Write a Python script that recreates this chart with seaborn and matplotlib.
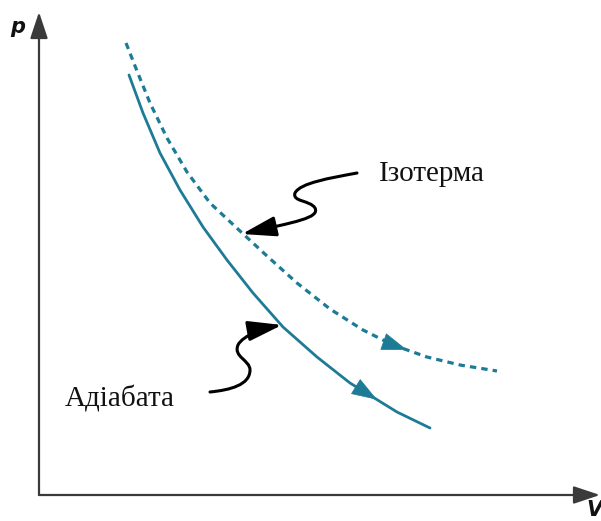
import numpy as np
import matplotlib
matplotlib.use("Agg")
import matplotlib.pyplot as plt
import seaborn as sns
from matplotlib.path import Path
from matplotlib.patches import FancyArrowPatch

# Isotherm (dashed) and adiabat (solid) in p–V coordinates, arbitrary units
iso_V = [0.87, 0.98, 1.11, 1.28, 1.48, 1.71, 2.01, 2.28, 2.58, 2.91, 3.24, 3.54, 3.88, 4.21, 4.58]
iso_p = [4.52, 4.24, 3.92, 3.57, 3.23, 2.92, 2.64, 2.39, 2.12, 1.86, 1.65, 1.50, 1.38, 1.30, 1.24]
adi_V = [0.90, 1.04, 1.21, 1.41, 1.64, 1.88, 2.14, 2.44, 2.78, 3.11, 3.58, 3.91]
adi_p = [4.20, 3.82, 3.42, 3.05, 2.68, 2.35, 2.02, 1.68, 1.38, 1.12, 0.83, 0.67]

# V of the direction-arrow tips on each curve
iso_arrow_V = 3.68
adi_arrow_V = 3.38

labels = ["Ізотерма", "Адіабата"]
axis_labels = ["p", "V"]

TEAL = "#1d7b96"

sns.set_style("white")
plt.rcParams["font.family"] = ["DejaVu Sans"]

fig = plt.figure(figsize=(6.01, 5.21), dpi=100)
ax = fig.add_axes([0, 0, 1, 1])
ax.set_xlim(-0.39, 5.62)
ax.set_ylim(-0.26, 4.95)
ax.axis("off")

# coordinate axes with arrowheads
axis_arrow = dict(arrowstyle="-|>,head_length=0.9,head_width=0.3",
                  color="#3a3a3a", lw=1.6, shrinkA=0, shrinkB=0,
                  mutation_scale=18)
ax.annotate("", xy=(5.61, 0), xytext=(0, 0), arrowprops=axis_arrow)
ax.annotate("", xy=(0, 4.83), xytext=(0, 0), arrowprops=axis_arrow)
ax.text(-0.21, 4.68, axis_labels[0], fontsize=15, fontweight="bold",
        fontstyle="italic", ha="center", va="center", color="#111111")
ax.text(5.47, -0.255, axis_labels[1], fontsize=15, fontweight="bold",
        fontstyle="italic", ha="left", va="bottom", color="#111111")

# curves
sns.lineplot(x=iso_V, y=iso_p, ax=ax, color=TEAL, lw=2.3, sort=False,
             linestyle=(0, (2.0, 1.6)))
sns.lineplot(x=adi_V, y=adi_p, ax=ax, color=TEAL, lw=2.0, sort=False)


def direction_arrow(V, p, v_tip):
    """Filled arrowhead on a curve, pointing towards growing V."""
    y_tip = np.interp(v_tip, V, p)
    v_back = v_tip - 0.12
    y_back = np.interp(v_back, V, p)
    ax.annotate("", xy=(v_tip, y_tip), xytext=(v_back, y_back),
                arrowprops=dict(arrowstyle="-|>,head_length=0.95,head_width=0.33",
                                color=TEAL, lw=0.5, shrinkA=0, shrinkB=0,
                                mutation_scale=18))


direction_arrow(iso_V, iso_p, iso_arrow_V)
direction_arrow(adi_V, adi_p, adi_arrow_V)

# wavy pointers from the labels to the curves (cubic Bézier control points)
C4 = Path.CURVE4
iso_ptr = [(3.18, 3.22), (2.91, 3.17), (2.61, 3.12), (2.56, 3.02),
           (2.53, 2.93), (2.71, 2.95), (2.76, 2.87),
           (2.81, 2.77), (2.56, 2.73), (2.03, 2.61)]
adi_ptr = [(1.71, 1.03), (1.91, 1.05), (2.11, 1.10), (2.11, 1.25),
           (2.11, 1.35), (1.94, 1.38), (1.99, 1.50),
           (2.04, 1.60), (2.26, 1.67), (2.43, 1.70)]
for pts in (iso_ptr, adi_ptr):
    codes = [Path.MOVETO] + [C4] * (len(pts) - 1)
    arr = FancyArrowPatch(path=Path(pts, codes),
                          arrowstyle="-|>,head_length=1.15,head_width=0.34",
                          mutation_scale=18, color="black", lw=2.2,
                          transform=ax.transData)
    ax.add_patch(arr)

ax.text(3.40, 3.21, labels[0], fontsize=21, family="Liberation Serif",
        ha="left", va="center", color="#111111")
ax.text(0.26, 0.96, labels[1], fontsize=21, family="Liberation Serif",
        ha="left", va="center", color="#111111")

fig.savefig("out.png", dpi=100)
